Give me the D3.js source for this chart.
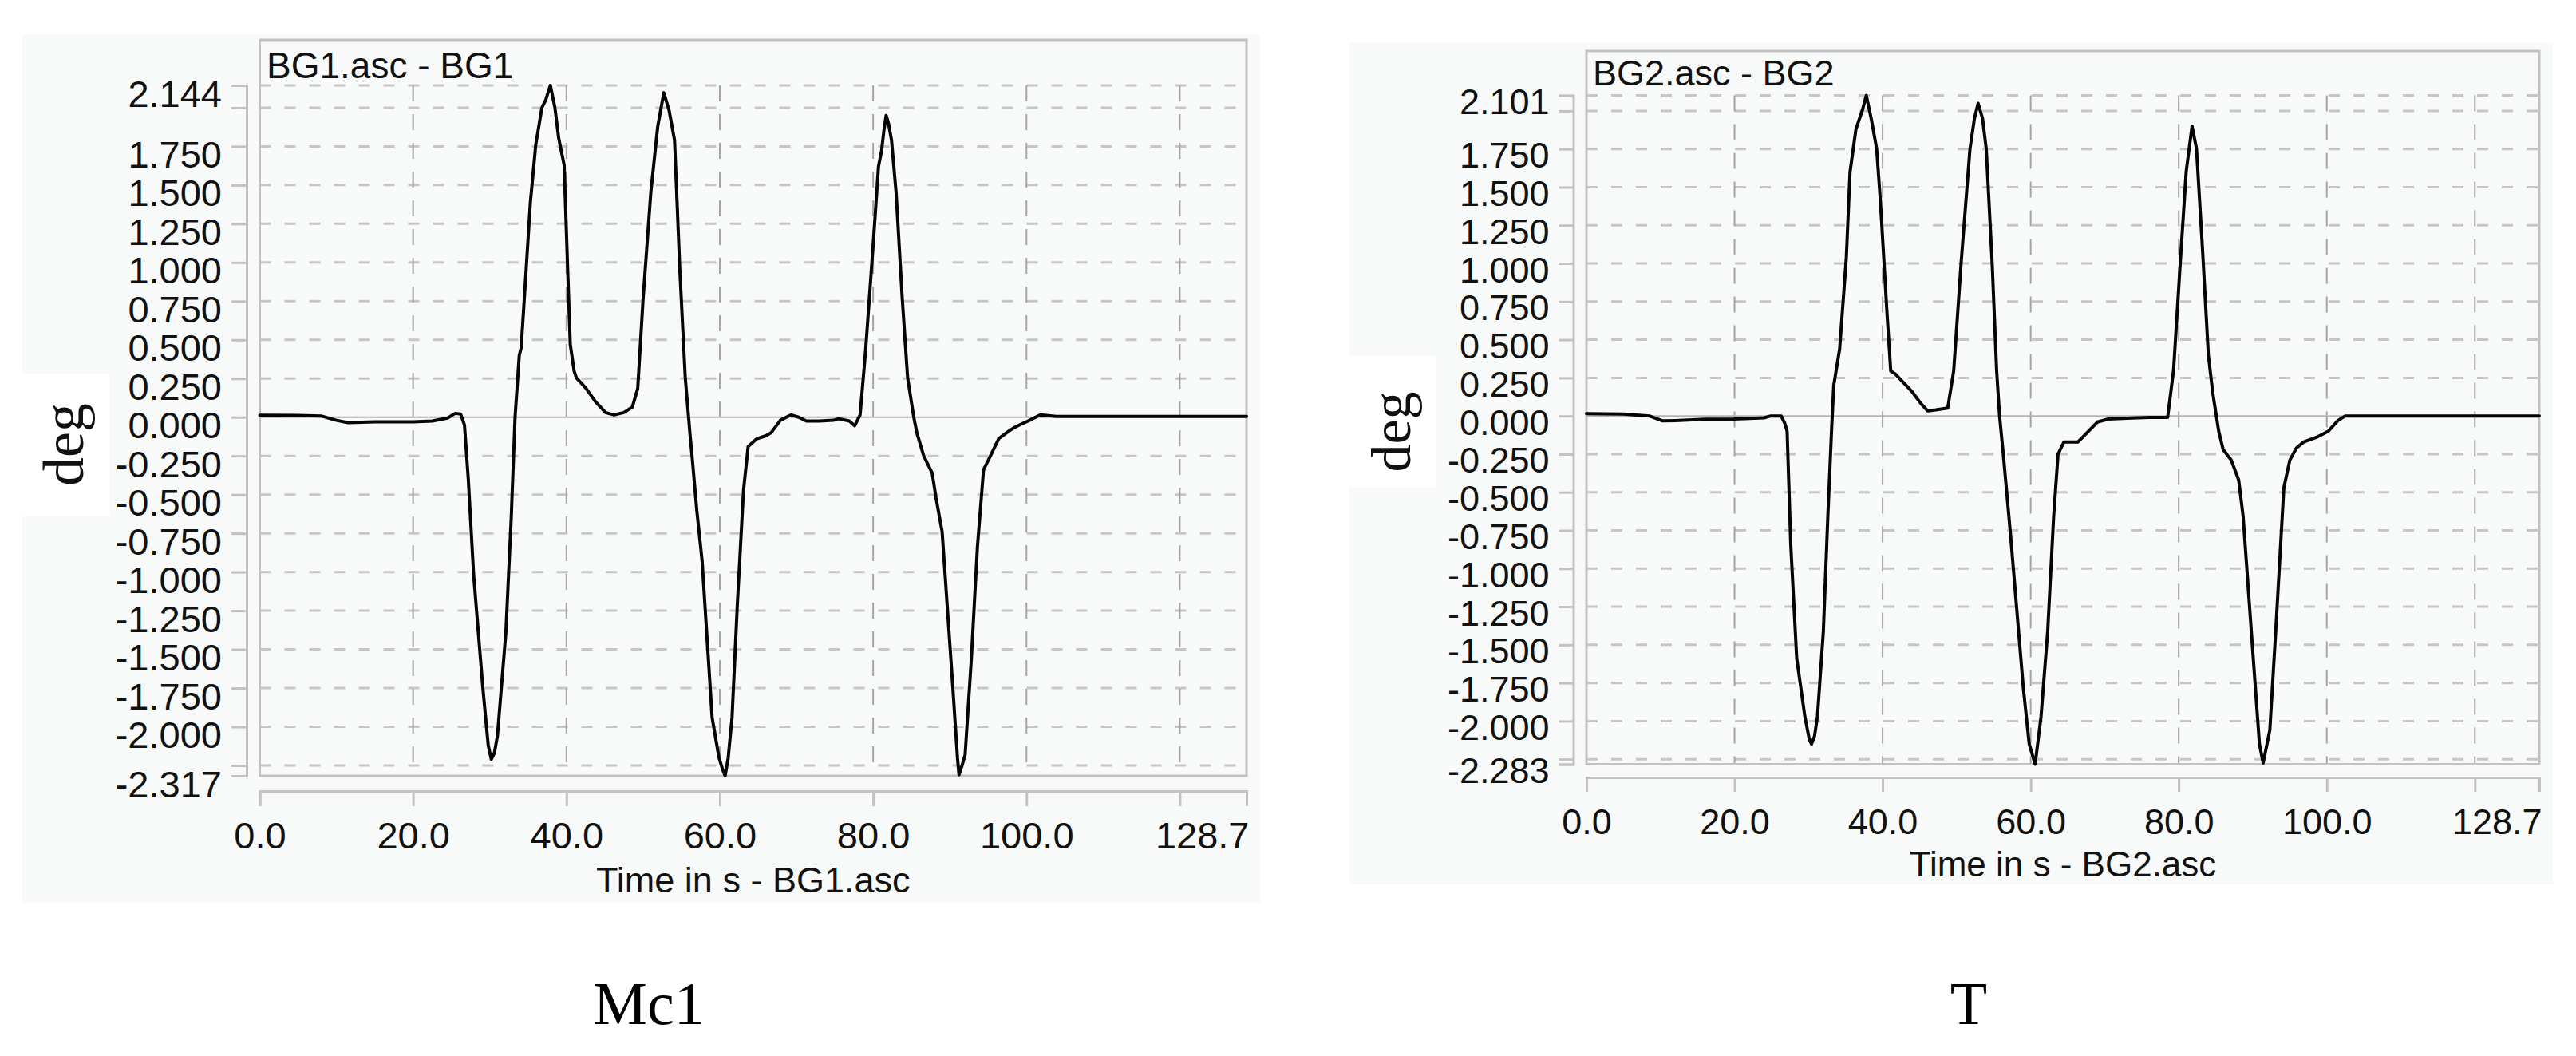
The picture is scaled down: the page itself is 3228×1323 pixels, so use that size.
<!DOCTYPE html>
<html>
<head>
<meta charset="utf-8">
<script src="https://cdn.jsdelivr.net/npm/d3@7"></script>
<style>
  body { margin: 0; background: #fff; }
  svg { display: block; }
</style>
</head>
<body>
<svg id="chart"></svg>
<script>
// time axis (s)
var timeEnd = 128.7;
var timeTicks = [0, 20, 40, 60, 80, 100, 120, 128.7];
var timeHidden = [120];
// deg axis grid
var degTicks = [-2.25, -2.0, -1.75, -1.5, -1.25, -1.0, -0.75, -0.5, -0.25, 0, 0.25, 0.5, 0.75, 1.0, 1.25, 1.5, 1.75, 2.0];
var degHidden = [-2.25, 2.0];

// BG1 (Mc1)
var bg1Range = [-2.317, 2.144];
var bg1Time = [0, 5, 8, 10, 11.5, 15, 20, 22.5, 24.5, 25.5, 26.2, 26.7, 27.2, 27.9, 29.1, 29.8, 30.2, 30.6, 31.0, 32.1,
  32.8, 33.3, 33.85, 34.1, 34.6, 35.3, 36.0, 36.8, 37.3, 37.9, 38.5, 39.0, 39.7, 40.2, 40.5, 41.0, 41.3, 42.5, 43.8, 45.1,
  46.2, 47.5, 48.6, 49.3, 50.0, 51.0, 51.9, 52.7, 53.4, 54.1, 54.8, 55.5, 56.1, 56.4, 57.0, 57.7, 59.0, 59.9, 60.4, 60.7,
  61.1, 61.6, 62.3, 63.1, 63.7, 64.8, 66.0, 66.7, 67.9, 69.3, 70.3, 71.3, 73.0, 74.8, 75.5, 76.9, 77.6, 78.3, 79.0, 80.0,
  80.7, 81.1, 81.4, 81.7, 82.0, 82.4, 83.0, 83.8, 84.5, 85.3, 85.7, 86.6, 87.7, 88.2, 89.0, 90.4, 91.0, 91.2, 91.6, 92.0,
  92.8, 93.6, 94.4, 95.3, 96.4, 97.7, 98.3, 99.3, 100.4, 101.8, 103.9, 128.7];
var bg1Deg = [0.013, 0.012, 0.008, -0.02, -0.035, -0.03, -0.03, -0.025, -0.005, 0.025, 0.02, -0.05, -0.4, -1.02, -1.75, -2.12, -2.21, -2.17, -2.06, -1.39,
  -0.65, 0.0, 0.40, 0.45, 0.84, 1.39, 1.76, 2.0, 2.05, 2.144, 2.0, 1.80, 1.63, 0.9, 0.47, 0.3, 0.255, 0.19, 0.1, 0.03,
  0.015, 0.03, 0.066, 0.186, 0.766, 1.45, 1.876, 2.097, 1.98, 1.79, 0.94, 0.255, -0.1, -0.26, -0.6, -0.93, -1.94, -2.2, -2.28, -2.317,
  -2.2, -1.94, -1.2, -0.47, -0.19, -0.14, -0.12, -0.1, -0.02, 0.015, 0.0, -0.025, -0.025, -0.02, -0.01, -0.025, -0.055, 0.015, 0.42, 1.11,
  1.62, 1.72, 1.85, 1.95, 1.9, 1.79, 1.45, 0.766, 0.255, 0.0, -0.1, -0.25, -0.36, -0.52, -0.74, -1.75, -2.2, -2.31, -2.25, -2.18,
  -1.57, -0.84, -0.34, -0.25, -0.137, -0.09, -0.07, -0.045, -0.02, 0.015, 0.005, 0.005];

// BG2 (T)
var bg2Range = [-2.283, 2.101];
var bg2Time = [0, 5, 8.5, 10.3, 12, 16, 20, 24, 24.9, 26.3, 26.8, 27.1, 27.6, 28.4, 29.5, 30.1, 30.4, 30.8, 31.2, 32.0,
  32.6, 33.1, 33.4, 34.2, 35.1, 35.6, 36.4, 37.3, 37.8, 38.5, 39.2, 39.7, 40.6, 41.1, 41.7, 43.9, 45.2, 46.1, 47.2, 48.8,
  49.6, 50.6, 51.8, 52.4, 52.9, 53.5, 54.0, 54.8, 55.4, 55.8, 56.3, 57.3, 59.0, 59.8, 60.6, 61.4, 62.3, 63.1, 63.7, 64.5,
  66.4, 67.8, 69.0, 70.5, 73.0, 76.0, 78.5, 79.3, 80.2, 81.0, 81.8, 82.4, 83.2, 84.0, 84.6, 85.4, 86.0, 87.1, 88.1, 88.7,
  89.8, 90.9, 91.4, 92.3, 93.1, 94.2, 95.0, 95.9, 96.9, 98.6, 100.2, 101.5, 102.5, 128.7];
var bg2Deg = [0.015, 0.012, 0.0, -0.032, -0.03, -0.022, -0.02, -0.012, 0.0, 0.0, -0.05, -0.10, -0.85, -1.59, -1.97, -2.12, -2.15, -2.1, -1.97, -1.41,
  -0.66, -0.10, 0.2, 0.44, 1.04, 1.6, 1.88, 2.01, 2.101, 1.94, 1.75, 1.41, 0.67, 0.295, 0.276, 0.164, 0.08, 0.033, 0.04, 0.052,
  0.295, 1.0, 1.75, 1.95, 2.05, 1.95, 1.75, 1.0, 0.3, 0.0, -0.25, -0.79, -1.78, -2.15, -2.283, -1.97, -1.41, -0.66, -0.25, -0.17,
  -0.17, -0.10, -0.04, -0.02, -0.015, -0.01, -0.01, 0.3, 1.0, 1.6, 1.90, 1.75, 1.1, 0.4, 0.15, -0.1, -0.22, -0.29, -0.42, -0.66,
  -1.41, -2.15, -2.275, -2.06, -1.41, -0.47, -0.29, -0.21, -0.17, -0.14, -0.10, -0.03, 0.0, 0.0];

var sans = "'Liberation Sans', Arial, sans-serif",
    serif = "'Liberation Serif', 'Times New Roman', serif",
    gridColor = "#c6c6c6",
    frameColor = "#c2c2c2";

var fmt3 = d3.formatLocale({decimal: ".", thousands: ",", grouping: [3], currency: ["", ""], minus: "-"}).format(".3f");

var svg = d3.select("#chart")
    .attr("width", 3228)
    .attr("height", 1323);

svg.append("rect")
    .attr("width", 3228)
    .attr("height", 1323)
    .attr("fill", "#ffffff");

var panels = [
  {bg: [28, 43, 1579, 1130], degBox: [0, 468, 137, 647], frameTop: 50, x0: 325.5, x1: 1562, yTop: 107, yBot: 972,
   axisX: 309, axisY: 991, tick: 19, fs: 47, yLab: 26, xLab: 72, titleX: 334, titleY: 98, titleFs: 46,
   title: "BG1.asc - BG1", xTitle: "Time in s - BG1.asc", xTitleY: 1118, xTitleFs: 45,
   degX: 82, degY: 557, degFs: 72, caption: "Mc1", capX: 813, capY: 1283,
   time: bg1Time, deg: bg1Deg, range: bg1Range},
  {bg: [1691, 54, 3199, 1108], degBox: [1691, 446, 1800, 611], frameTop: 64, x0: 1988, x1: 3182, yTop: 119.6, yBot: 957.5,
   axisX: 1971.5, axisY: 974, tick: 18, fs: 45, yLab: 23, xLab: 71, titleX: 1996, titleY: 107, titleFs: 45,
   title: "BG2.asc - BG2", xTitle: "Time in s - BG2.asc", xTitleY: 1098, xTitleFs: 44,
   degX: 1746, degY: 541, degFs: 70, caption: "T", capX: 2467, capY: 1283,
   time: bg2Time, deg: bg2Deg, range: bg2Range}
];

panels.forEach(drawPanel);

function drawPanel(p) {
  var g = svg.append("g");

  g.append("rect")
      .attr("x", p.bg[0])
      .attr("y", p.bg[1])
      .attr("width", p.bg[2] - p.bg[0])
      .attr("height", p.bg[3] - p.bg[1])
      .attr("fill", "#f7faf8");

  // white patch behind the pasted "deg" label
  g.append("rect")
      .attr("x", p.degBox[0])
      .attr("y", p.degBox[1])
      .attr("width", p.degBox[2] - p.degBox[0])
      .attr("height", p.degBox[3] - p.degBox[1])
      .attr("fill", "#ffffff");

  var x = d3.scaleLinear()
      .domain([0, timeEnd])
      .range([p.x0, p.x1]);

  var y = d3.scaleLinear()
      .domain(p.range)
      .range([p.yBot, p.yTop]);

  // horizontal dashed grid
  g.append("g")
    .selectAll("line")
    .data(degTicks.filter(function(d) { return d !== 0; }).concat([p.range[1]]))
    .join("line")
      .attr("x1", p.x0)
      .attr("x2", p.x1)
      .attr("y1", function(d) { return y(d); })
      .attr("y2", function(d) { return y(d); })
      .attr("stroke", gridColor)
      .attr("stroke-width", 3)
      .attr("stroke-dasharray", "14,17");

  // vertical dashed grid
  g.append("g")
    .selectAll("line")
    .data(timeTicks.filter(function(d) { return d > 0 && d < timeEnd; }))
    .join("line")
      .attr("x1", function(d) { return x(d); })
      .attr("x2", function(d) { return x(d); })
      .attr("y1", y(p.range[1]))
      .attr("y2", p.yBot)
      .attr("stroke", "#a4a4a4")
      .attr("stroke-width", 2)
      .attr("stroke-dasharray", "20,16");

  // zero line
  g.append("line")
      .attr("x1", p.x0)
      .attr("x2", p.x1)
      .attr("y1", y(0))
      .attr("y2", y(0))
      .attr("stroke", "#b4b4b4")
      .attr("stroke-width", 2);

  // plot frame
  g.append("rect")
      .attr("x", p.x0)
      .attr("y", p.frameTop)
      .attr("width", p.x1 - p.x0)
      .attr("height", p.yBot - p.frameTop)
      .attr("fill", "none")
      .attr("stroke", frameColor)
      .attr("stroke-width", 3);

  g.append("text")
      .attr("x", p.titleX)
      .attr("y", p.titleY)
      .attr("font-family", sans)
      .attr("font-size", p.titleFs)
      .attr("fill", "#111")
      .text(p.title);

  var line = d3.line()
      .x(function(d) { return x(d[0]); })
      .y(function(d) { return y(d[1]); });

  g.append("path")
      .attr("fill", "none")
      .attr("stroke", "#050505")
      .attr("stroke-width", 4)
      .attr("stroke-linejoin", "round")
      .attr("stroke-linecap", "round")
      .attr("d", line(d3.zip(p.time, p.deg)));

  // y axis, detached to the left of the frame
  var yAxis = d3.axisLeft(y)
      .tickValues([p.range[0]].concat(degTicks, [p.range[1]]))
      .tickFormat(function(d) { return degHidden.indexOf(d) >= 0 ? "" : fmt3(d); })
      .tickSize(p.tick)
      .tickSizeOuter(p.tick)
      .tickPadding(12);

  var ya = g.append("g")
      .attr("transform", "translate(" + p.axisX + ",0)")
      .call(yAxis)
      .attr("font-family", sans)
      .attr("font-size", p.fs);
  ya.selectAll("path, line").attr("stroke", frameColor).attr("stroke-width", 3);
  ya.selectAll("text").attr("dy", null).attr("y", p.yLab).attr("fill", "#111");

  // x axis, detached below the frame
  var xAxis = d3.axisBottom(x)
      .tickValues(timeTicks)
      .tickFormat(function(d) { return timeHidden.indexOf(d) >= 0 ? "" : d3.format(".1f")(d); })
      .tickSize(p.tick)
      .tickSizeOuter(p.tick);

  var xa = g.append("g")
      .attr("transform", "translate(0," + p.axisY + ")")
      .call(xAxis)
      .attr("font-family", sans)
      .attr("font-size", p.fs);
  xa.selectAll("path, line").attr("stroke", frameColor).attr("stroke-width", 3);
  xa.selectAll("text").attr("dy", null).attr("y", p.xLab).attr("fill", "#111");
  xa.selectAll("text")
    .filter(function(d) { return d === timeEnd; })
      .attr("text-anchor", "end")
      .attr("x", 3);

  g.append("text")
      .attr("x", (p.x0 + p.x1) / 2)
      .attr("y", p.xTitleY)
      .attr("text-anchor", "middle")
      .attr("font-family", sans)
      .attr("font-size", p.xTitleFs)
      .attr("fill", "#111")
      .text(p.xTitle);

  g.append("text")
      .attr("transform", "translate(" + p.degX + "," + p.degY + ") rotate(-90)")
      .attr("text-anchor", "middle")
      .attr("dy", "0.3em")
      .attr("font-family", serif)
      .attr("font-size", p.degFs)
      .attr("fill", "#111")
      .text("deg");

  svg.append("text")
      .attr("x", p.capX)
      .attr("y", p.capY)
      .attr("text-anchor", "middle")
      .attr("font-family", serif)
      .attr("font-size", 76)
      .attr("fill", "#000")
      .text(p.caption);
}
</script>
</body>
</html>
